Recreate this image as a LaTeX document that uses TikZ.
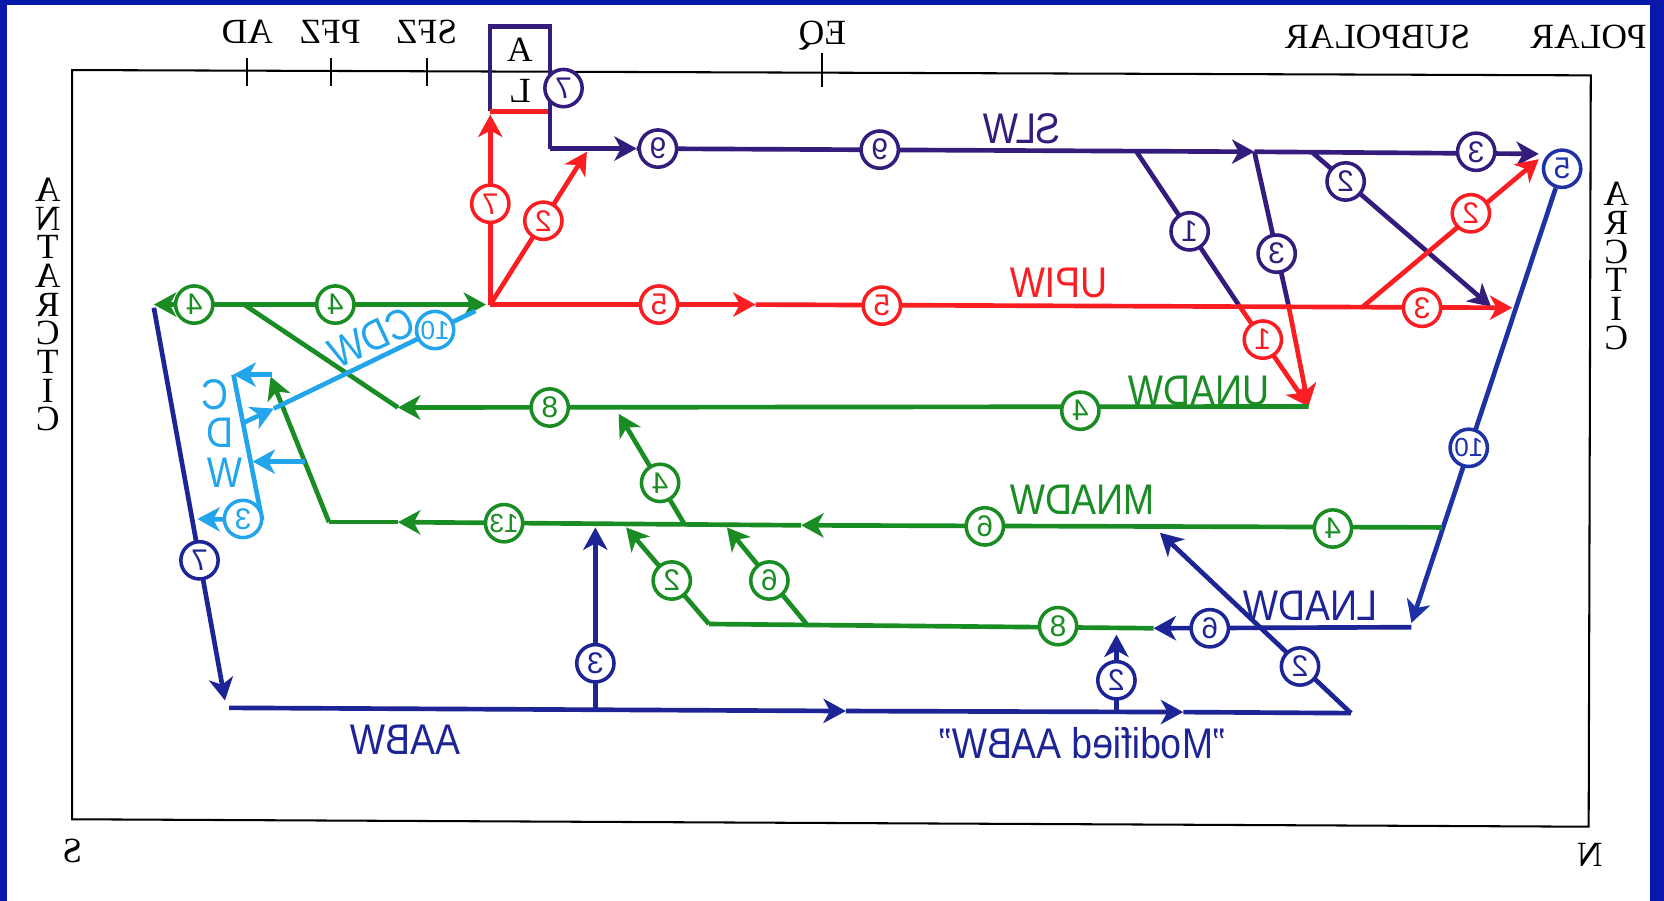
\documentclass[tikz,border=0pt]{standalone}
\usepackage{fontspec}
\setmainfont{Liberation Serif}
\setsansfont{Liberation Sans}
\usepackage{graphicx}
\usetikzlibrary{arrows.meta}
\definecolor{purp}{RGB}{52,28,125}
\definecolor{navy}{RGB}{28,36,150}
\definecolor{bblue}{RGB}{30,50,165}
\definecolor{rd}{RGB}{250,30,35}
\definecolor{gr}{RGB}{25,140,35}
\definecolor{cy}{RGB}{35,165,235}
\definecolor{brd}{RGB}{8,24,170}
\newcommand{\mirtxt}[1]{\reflectbox{#1}}
\newcommand{\mirlab}[1]{\scalebox{-1}[1.15]{#1}}
\tikzset{
  ln/.style={line width=2.5pt},
  arr/.style={-{Stealth[length=12pt,width=13pt,inset=3.5pt]}},
  num/.style={circle, draw=#1, text=#1, fill=white, line width=1.9pt, inner sep=0pt,
              minimum size=20pt, font=\sffamily\fontsize{16}{16}\selectfont},
  lab/.style={text=#1, font=\sffamily\fontsize{20}{20}\selectfont, inner sep=0pt},
  slab/.style={text=black, font=\rmfamily\fontsize{19}{19}\selectfont, inner sep=0pt},
}
\begin{document}
\begin{tikzpicture}[x=0.02cm,y=-0.02cm]
\useasboundingbox (0,0) rectangle (1568,849);
\fill[white] (0,0) rectangle (1568,849);
\fill[brd] (0,0) rectangle (7,849);
\fill[brd] (0,0) rectangle (1568,5);
\fill[brd] (1555,0) rectangle (1568,849);

% frame and ticks
\draw[line width=1.1pt] (68,66) -- (1499,71) -- (1497,779) -- (68,772) -- cycle;
\foreach \x in {233,312,402}{
  \draw[line width=1.1pt] (\x,55) -- (\x,81);
}
\draw[line width=1.1pt] (775,50) -- (775,82);
\node[slab] (tAD) at (233,30) {\mirtxt{AD}};
\node[slab] (tPFZ) at (311,30) {\mirtxt{PFZ}};
\node[slab] (tSFZ) at (402,30) {\mirtxt{SFZ}};
\node[slab] (tEQ) at (775,34) {\mirtxt{EQ}};
\node[slab] (tSUB) at (1298,35) {\mirtxt{SUBPOLAR}};
\node[slab] (tPOL) at (1497,35) {\mirtxt{POLAR}};
\node[slab] (tS) at (68,802) {\mirtxt{S}};
\node[slab] (tN) at (1498,806) {\mirtxt{N}};
\foreach \c [count=\i] in {A,N,T,A,R,C,T,I,C}
  \node[slab] (ant\i) at (45,152+27*\i) {\mirtxt{\c}};
\foreach \c [count=\i] in {A,R,C,T,I,C}
  \node[slab] (arc\i) at (1523,156+27*\i) {\mirtxt{\c}};

% coordinates
\coordinate (boxBL) at (462,105);
\coordinate (boxTL) at (462,25);
\coordinate (boxTR) at (518,25);
\coordinate (boxR) at (518,140);
\coordinate (boxBR) at (516,105);
\coordinate (slwA) at (600,140);
\coordinate (slwB) at (1071,143);
\coordinate (slwC) at (1182,143);
\coordinate (slwD) at (1237,144);
\coordinate (slwE) at (1450,145);
\coordinate (x1) at (1167,287);
\coordinate (x3) at (1214,287);
\coordinate (unadwE) at (1233,383);
\coordinate (p2E) at (1405,289);
\coordinate (R0) at (462,287);
\coordinate (rUp) at (462,108);
\coordinate (rD) at (553,143);
\coordinate (upA) at (712,287);
\coordinate (upE) at (1425,290);
\coordinate (rX) at (1283,290);
\coordinate (rT) at (1450,150);
\coordinate (lnE) at (1330,587);
\coordinate (lnR) at (1330,591);
\coordinate (lnA) at (1087,592);
\coordinate (gL) at (668,588);
\coordinate (gL6) at (760,588);
\coordinate (g2T) at (590,497);
\coordinate (g6T) at (685,497);
\coordinate (gM) at (1359,497);
\coordinate (mA) at (755,495);
\coordinate (mB) at (375,492);
\coordinate (mL) at (310,492);
\coordinate (mT) at (255,355);
\coordinate (g4B) at (645,494);
\coordinate (g4T) at (583,390);
\coordinate (uA) at (375,384);
\coordinate (tJ) at (230,287);
\coordinate (tL) at (145,287);
\coordinate (tR) at (458,287);
\coordinate (bL) at (145,290);
\coordinate (bLT) at (212,660);
\coordinate (aL) at (216,667);
\coordinate (aA) at (797,670);
\coordinate (aB) at (1115,671);
\coordinate (aR) at (1273,672);
\coordinate (aT) at (1093,502);
\coordinate (v3B) at (561,669);
\coordinate (v3T) at (561,497);
\coordinate (v2B) at (1052,671);
\coordinate (v2T) at (1052,598);
\coordinate (BT) at (220,353);
\coordinate (BB) at (247,490);
\coordinate (cT) at (256,353);
\coordinate (cM) at (287,435);
\coordinate (cMT) at (238,435);
\coordinate (cBT) at (186,489);
\coordinate (cJ) at (228,399);
\coordinate (cA) at (258,385);
\coordinate (cE) at (448,293);

% box A / L
\draw[purp, line width=2.2pt] (boxBL) -- (boxTL) -- (boxTR) -- (boxR);
\draw[rd, ln] (boxBL) -- (boxBR);
\node[slab] (boxA) at (490,47) {A};
\node[slab] (boxL) at (490,86) {\mirtxt{L}};

% SLW
\draw[purp, ln, arr] (boxR) -- (slwA);
\draw[purp, ln, arr] (slwA) -- (slwC);
\draw[purp, ln, arr] (slwC) -- (slwE);
\draw[purp, ln] (slwB) -- (x1);
\draw[rd, ln, arr] (x1) -- (unadwE);
\draw[purp, ln] (slwC) -- (x3);
\draw[rd, ln, arr] (x3) -- (unadwE);
\draw[purp, ln, arr] (slwD) -- (p2E);

% red
\draw[rd, ln, arr] (R0) -- (rUp);
\draw[rd, ln, arr] (R0) -- (rD);
\draw[rd, ln, arr] (R0) -- (upA);
\draw[rd, ln, arr] (upA) -- (upE);
\draw[rd, ln, arr] (rX) -- (rT);

% blue right
\node[num=bblue] (b5) at (1472,159) {\mirtxt{5}};
\draw[bblue, ln, arr] (b5) -- (lnE);
\draw[navy, ln, arr] (lnR) -- (lnA);

% green
\draw[gr, ln] (lnA) -- (gL);
\draw[gr, ln, arr] (gL) -- (g2T);
\draw[gr, ln, arr] (gL6) -- (g6T);
\draw[gr, ln, arr] (gM) -- (mA);
\draw[gr, ln, arr] (mA) -- (mB);
\draw[gr, ln] (mB) -- (mL);
\draw[gr, ln, arr] (mL) -- (mT);
\draw[gr, ln, arr] (g4B) -- (g4T);
\draw[gr, ln, arr] (unadwE) -- (uA);
\draw[gr, ln] (uA) -- (tJ);
\draw[gr, ln, arr] (tJ) -- (tL);
\draw[gr, ln, arr] (tJ) -- (tR);

% blue left / bottom
\draw[navy, ln, arr] (bL) -- (bLT);
\draw[navy, ln, arr] (aL) -- (aA);
\draw[navy, ln, arr] (aA) -- (aB);
\draw[navy, ln] (aB) -- (aR);
\draw[navy, ln, arr] (aR) -- (aT);
\draw[navy, ln, arr] (v3B) -- (v3T);
\draw[navy, ln, arr] (v2B) -- (v2T);

% cyan
\draw[cy, ln] (BT) -- (BB);
\draw[cy, ln, arr] (cT) -- (BT);
\draw[cy, ln, arr] (cM) -- (cMT);
\draw[cy, ln, arr] (BB) -- (cBT);
\draw[cy, ln, arr] (cJ) -- (cA);
\draw[cy, ln] (cA) -- (cE);

% circles
\node[num=purp] (p7) at (531,83) {\mirtxt{7}};
\node[num=purp] (s9a) at (620,140) {\mirtxt{9}};
\node[num=purp] (s9b) at (829,141) {\mirtxt{9}};
\node[num=purp] (s3) at (1391,143) {\mirtxt{3}};
\node[num=purp] (p1) at (1121,218) {\mirtxt{1}};
\node[num=purp] (p3) at (1203,239) {\mirtxt{3}};
\node[num=purp] (p2) at (1268,171) {\mirtxt{2}};
\node[num=rd] (r7) at (462,192) {\mirtxt{7}};
\node[num=rd] (r2) at (512,208) {\mirtxt{2}};
\node[num=rd] (r5a) at (621,287) {\mirtxt{5}};
\node[num=rd] (r5b) at (831,288) {\mirtxt{5}};
\node[num=rd] (r3) at (1340,290) {\mirtxt{3}};
\node[num=rd] (r1) at (1190,320) {\mirtxt{1}};
\node[num=rd] (r2b) at (1386,201) {\mirtxt{2}};
\node[num=bblue, font=\sffamily\fontsize{14}{14}\selectfont] (b10) at (1384,422) {\mirtxt{10}};
\node[num=navy] (b6) at (1140,592) {\mirtxt{6}};
\node[num=gr] (g8b) at (997,590) {\mirtxt{8}};
\node[num=gr] (g2) at (633,547) {\mirtxt{2}};
\node[num=gr] (g6) at (725,547) {\mirtxt{6}};
\node[num=gr] (g4m) at (1256,498) {\mirtxt{4}};
\node[num=gr] (g6m) at (928,496) {\mirtxt{6}};
\node[num=gr, font=\sffamily\fontsize{14}{14}\selectfont] (g13) at (475,493) {\mirtxt{13}};
\node[num=gr] (g4c) at (622,455) {\mirtxt{4}};
\node[num=gr] (g4u) at (1018,387) {\mirtxt{4}};
\node[num=gr] (g8u) at (518,384) {\mirtxt{8}};
\node[num=gr] (g4a) at (183,287) {\mirtxt{4}};
\node[num=gr] (g4b) at (316,287) {\mirtxt{4}};
\node[num=navy] (b7) at (188,528) {\mirtxt{7}};
\node[num=navy] (b2) at (1225,628) {\mirtxt{2}};
\node[num=navy] (b3) at (561,625) {\mirtxt{3}};
\node[num=navy] (b2s) at (1052,641) {\mirtxt{2}};
\node[num=cy, font=\sffamily\fontsize{14}{14}\selectfont] (c10) at (410,311) {\mirtxt{10}};
\node[num=cy] (c3) at (229,489) {\mirtxt{3}};

% labels
\node[lab=purp] (lSLW) at (963,121) {\mirlab{SLW}};
\node[lab=rd] (lUPIW) at (998,267) {\mirlab{UPIW}};
\node[lab=gr] (lUNADW) at (1130,368) {\mirlab{UNADW}};
\node[lab=gr] (lMNADW) at (1020,471) {\mirlab{MNADW}};
\node[lab=navy] (lLNADW) at (1235,571) {\mirlab{LNADW}};
\node[lab=navy] (lAABW) at (382,697) {\mirlab{AABW}};
\node[lab=navy] (lMod) at (1020,700) {\mirlab{"Modified AABW"}};
\node[lab=cy, rotate=25] (lCDW) at (350,318) {\mirlab{CDW}};
\node[lab=cy] (lC) at (203,372) {\mirlab{C}};
\node[lab=cy] (lD) at (207,408) {\mirlab{D}};
\node[lab=cy] (lW) at (212,445) {\mirlab{W}};
\end{tikzpicture}
\end{document}
